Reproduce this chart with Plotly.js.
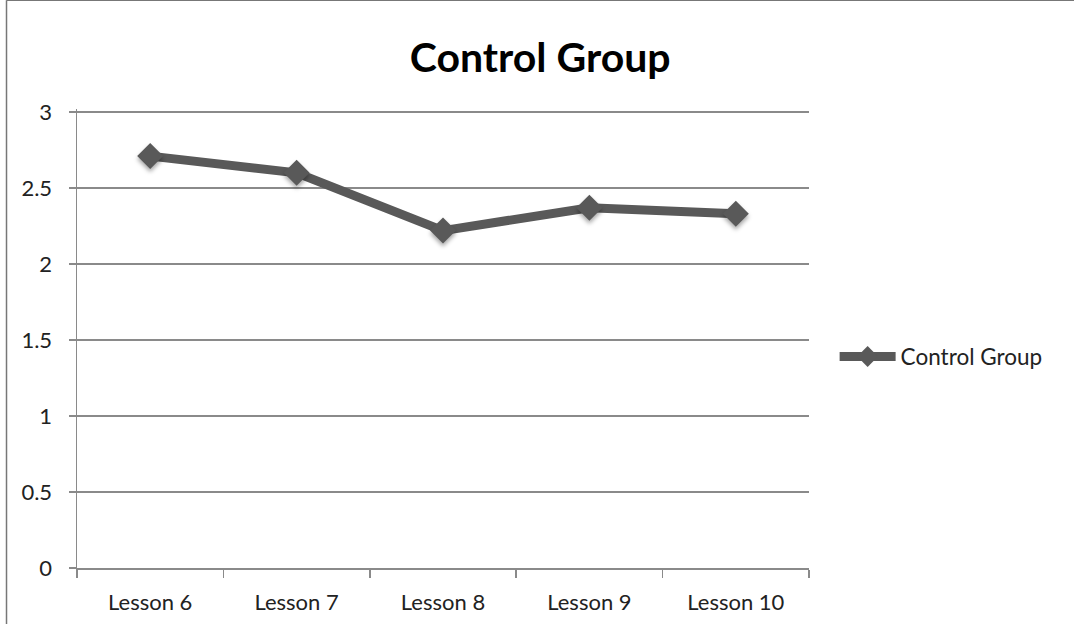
<!DOCTYPE html>
<html>
<head>
<meta charset="utf-8">
<script src="https://cdn.plot.ly/plotly-3.0.1.min.js"></script>
<style>
  html, body { margin: 0; padding: 0; background: #fff; }
  #chart { width: 1074px; height: 624px; }
  /* soft drop shadow under the data markers */
  #chart .scatterlayer .points path { filter: drop-shadow(0 3px 2px rgba(0,0,0,0.35)); }
</style>
</head>
<body>
<div id="chart"></div>
<script>
// Lesson categories and the control group's mean scores
const lessons = ["Lesson 6", "Lesson 7", "Lesson 8", "Lesson 9", "Lesson 10"];
const controlScores = [2.71, 2.6, 2.22, 2.37, 2.33];
const yTickValues = [0, 0.5, 1, 1.5, 2, 2.5, 3];
const yTickLabels = ["0", "0.5", "1", "1.5", "2", "2.5", "3"];

const font = "Lato, 'Open Sans', sans-serif";
const lineColor = "#595959";
const gridColor = "#8a8a8a";
const frameColor = "#777";

const traces = [{
  type: "scatter",
  mode: "lines+markers",
  name: "Control Group",
  x: lessons,
  y: controlScores,
  line: { color: lineColor, width: 9 },
  marker: { symbol: "diamond", size: 20, color: lineColor }
}];

const layout = {
  width: 1074,
  height: 624,
  paper_bgcolor: "#fff",
  plot_bgcolor: "#fff",
  margin: { l: 77, r: 265, t: 109, b: 56 },
  title: {
    text: "<b>Control Group</b>",
    font: { family: font, size: 41, color: "#000" },
    x: 0.503, xanchor: "center",
    y: 0.908, yanchor: "middle"
  },
  xaxis: {
    type: "category",
    range: [-0.5, 4.5],
    showgrid: false,
    zeroline: false,
    showline: true,
    linecolor: gridColor,
    linewidth: 1.5,
    ticks: "outside",
    tickson: "boundaries",
    ticklen: 8,
    tickcolor: gridColor,
    tickwidth: 1.5,
    ticklabelstandoff: 14,
    tickfont: { family: font, size: 22, color: "#222" },
    fixedrange: true
  },
  yaxis: {
    range: [0, 3.02],
    tickvals: yTickValues,
    ticktext: yTickLabels,
    showgrid: true,
    gridcolor: gridColor,
    gridwidth: 1.5,
    zeroline: false,
    showline: true,
    linecolor: gridColor,
    linewidth: 1.5,
    ticks: "outside",
    ticklen: 7,
    tickcolor: gridColor,
    tickwidth: 1.5,
    ticklabelstandoff: 12,
    tickfont: { family: font, size: 22, color: "#222" },
    fixedrange: true
  },
  showlegend: true,
  legend: {
    x: 1.035, xanchor: "left",
    y: 0.46, yanchor: "middle",
    font: { family: font, size: 22.5, color: "#222" },
    itemwidth: 56,
    bgcolor: "rgba(0,0,0,0)"
  },
  shapes: [
    // chart frame: left edge
    {
      type: "line", xref: "paper", yref: "paper",
      x0: -0.0963, x1: -0.0963, y0: -0.2, y1: 1.237,
      line: { color: frameColor, width: 1.5 }, layer: "below"
    },
    // chart frame: top edge
    {
      type: "line", xref: "paper", yref: "paper",
      x0: -0.0963, x1: 1.6, y0: 1.237, y1: 1.237,
      line: { color: frameColor, width: 1.5 }, layer: "below"
    }
  ]
};

Plotly.newPlot("chart", traces, layout, { displayModeBar: false, staticPlot: true });
</script>
</body>
</html>
